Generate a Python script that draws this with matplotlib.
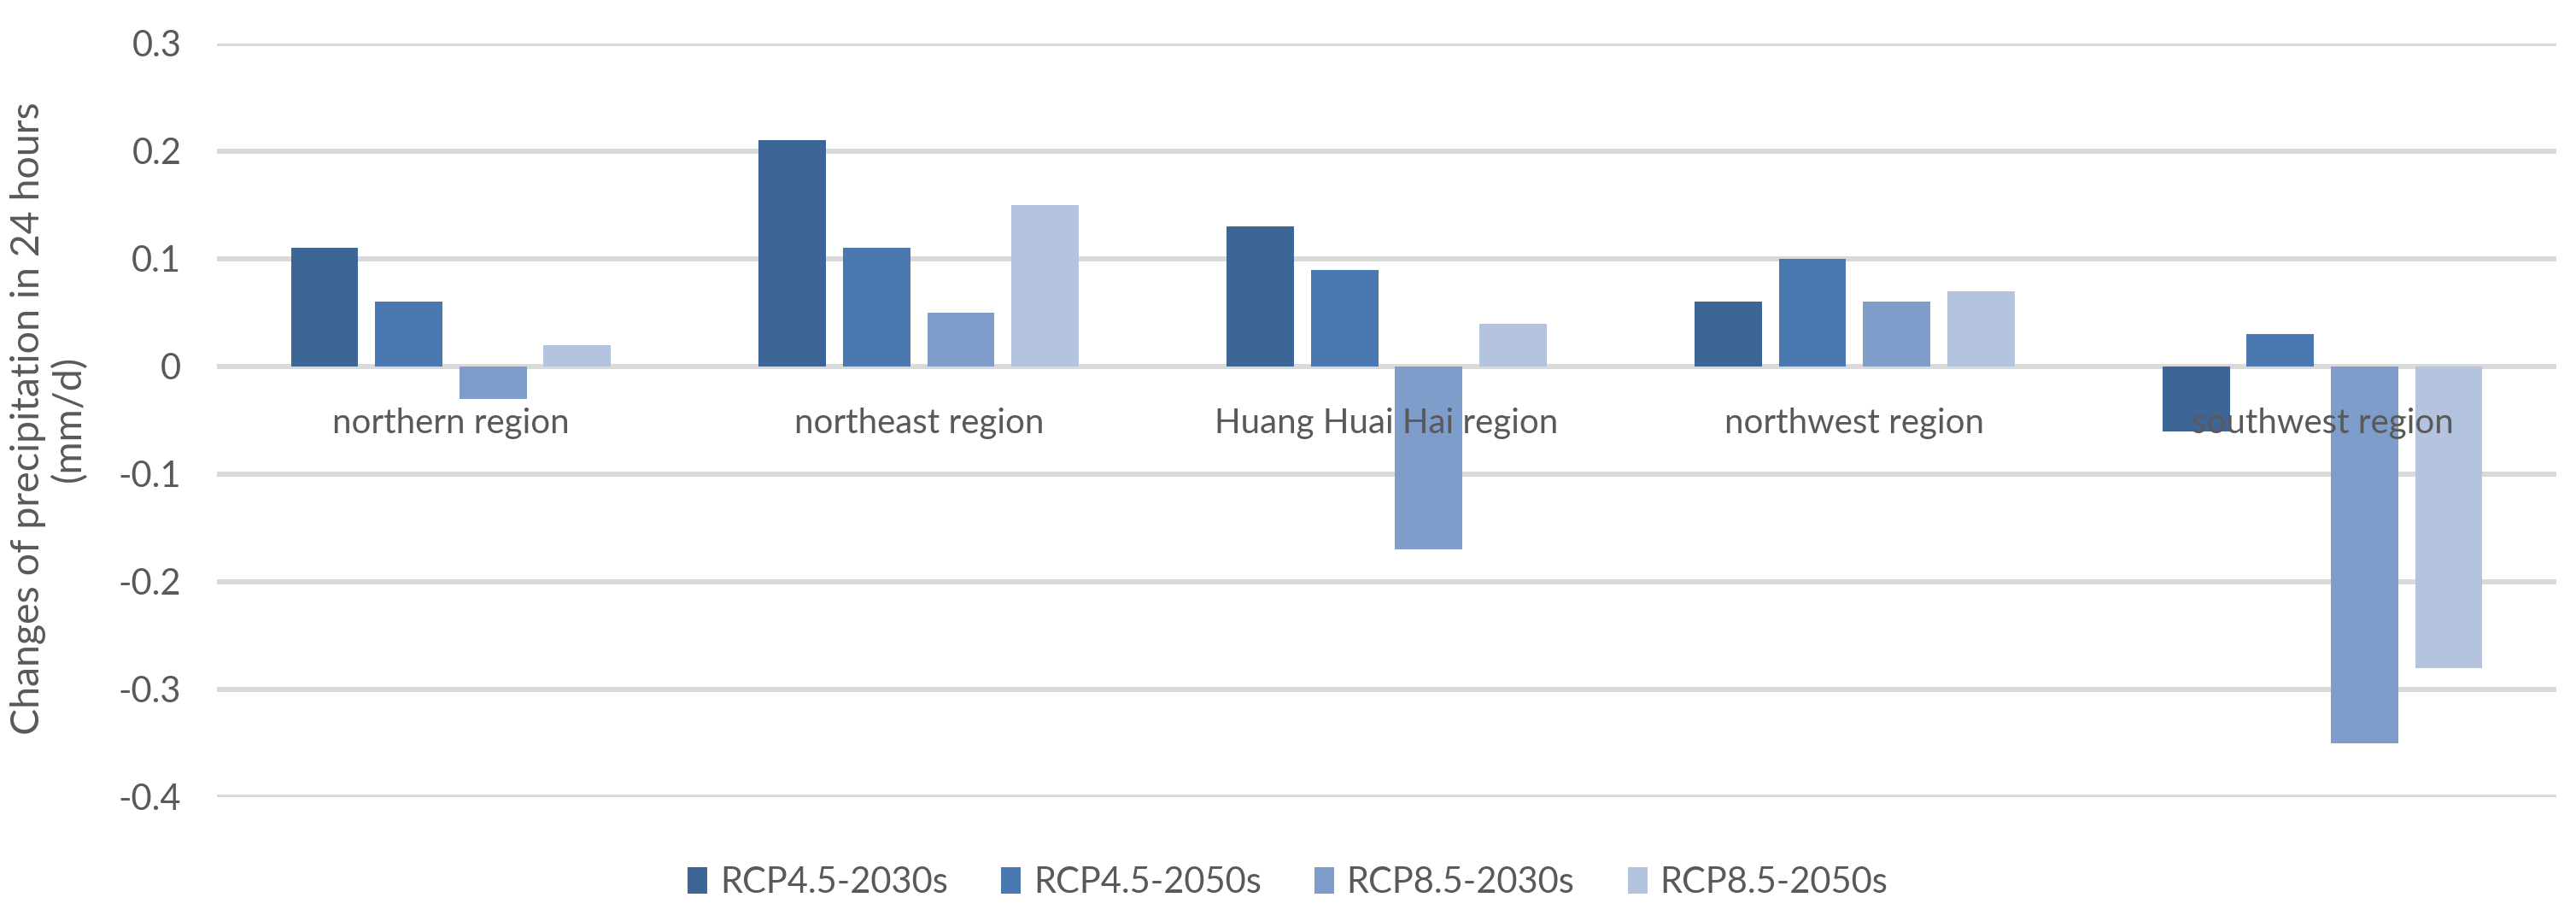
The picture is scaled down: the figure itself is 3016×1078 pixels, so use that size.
import numpy as np
import matplotlib.pyplot as plt

plt.rcParams['font.family'] = ['Lato', 'DejaVu Sans']

regions = ['northern region', 'northeast region', 'Huang Huai Hai region',
           'northwest region', 'southwest region']
series = ['RCP4.5-2030s', 'RCP4.5-2050s', 'RCP8.5-2030s', 'RCP8.5-2050s']
rcp45_2030 = [0.11, 0.21, 0.13, 0.06, -0.06]
rcp45_2050 = [0.06, 0.11, 0.09, 0.10, 0.03]
rcp85_2030 = [-0.03, 0.05, -0.17, 0.06, -0.35]
rcp85_2050 = [0.02, 0.15, 0.04, 0.07, -0.28]
yticks = [0.3, 0.2, 0.1, 0, -0.1, -0.2, -0.3, -0.4]
ytick_labels = ['0.3', '0.2', '0.1', '0', '-0.1', '-0.2', '-0.3', '-0.4']

colors = ['#3D6596', '#4A78B0', '#7F9DCA', '#B5C4DE']
text_color = '#595959'
fs = 30

fig = plt.figure(figsize=(30.16, 10.78), dpi=100)
ax = fig.add_axes([254/3016, 1-933/1078, (2993-254)/3016, (933-51)/1078])

x = np.arange(len(regions))
pitch = 0.18
width = 0.144
for j, (vals, name) in enumerate(zip([rcp45_2030, rcp45_2050, rcp85_2030, rcp85_2050], series)):
    ax.bar(x + (j - 1.5) * pitch, vals, width, color=colors[j], label=name, zorder=3)

ax.set_xlim(-0.5, len(regions) - 0.5)
ax.set_ylim(-0.4, 0.3)
ax.set_yticks(yticks, ytick_labels)
ax.set_xticks([])
ax.tick_params(axis='y', length=0, pad=30, labelsize=fs, labelcolor=text_color)
ax.yaxis.grid(True, color='#D9D9D9', linewidth=4.3, zorder=0)
ax.set_axisbelow(True)
for s in ax.spines.values():
    s.set_visible(False)

# category names sit just under the zero line, over the bars
for i, r in enumerate(regions):
    ax.annotate(r, (i, 0), xytext=(0, -48), textcoords='offset points',
                ha='center', va='center', fontsize=fs - 1, color=text_color, zorder=5)

fig.text(0.019, (1 - 490/1078), 'Changes of precipitation in 24 hours\n(mm/d)',
         rotation=90, ha='center', va='center', fontsize=33.5, color=text_color,
         multialignment='center', linespacing=1.15)

fig.legend(loc='center', bbox_to_anchor=(0.5, 1 - 1033/1078), ncol=4, frameon=False,
           fontsize=fs, labelcolor=text_color, handlelength=0.55, handleheight=0.75,
           handletextpad=0.35, columnspacing=1.5)

fig.savefig('out.png', dpi=100)
